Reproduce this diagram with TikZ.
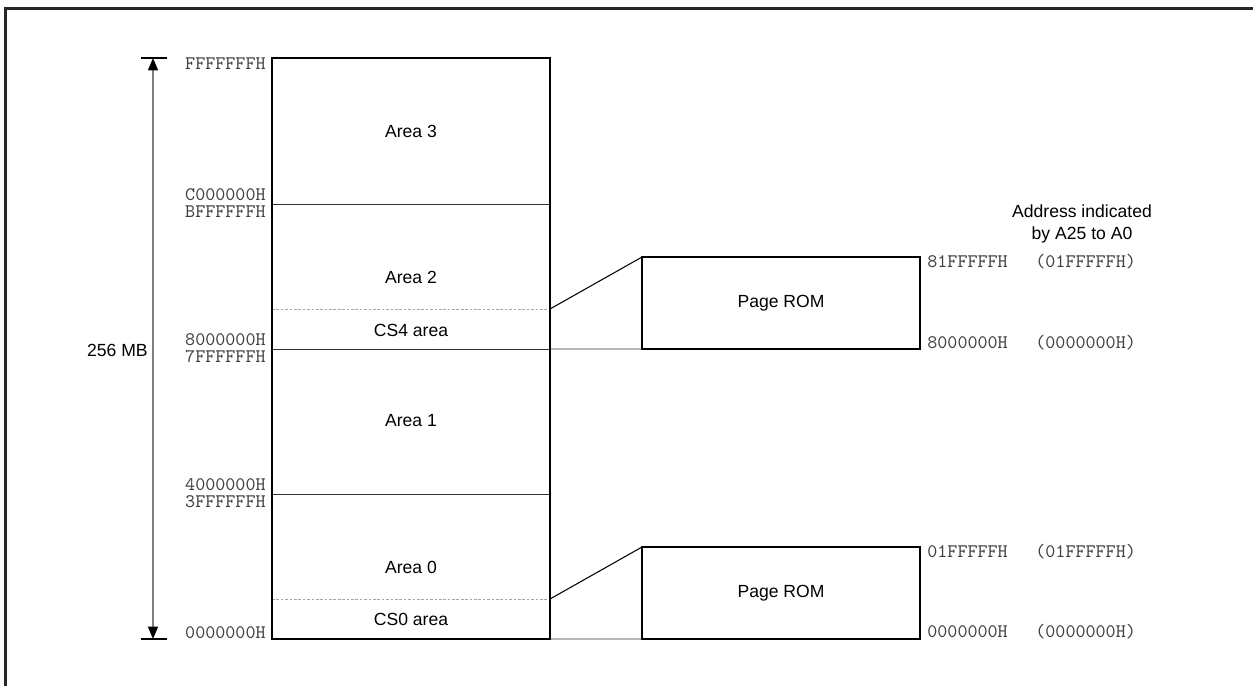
\documentclass[tikz,border=0pt]{standalone}
\usepackage{fontspec}
\setmainfont{Liberation Sans}
\usetikzlibrary{arrows.meta}

\tikzset{
  areatext/.style={font=\fontsize{10}{12}\selectfont, inner sep=0pt},
  addr/.style={font=\ttfamily\fontsize{10.9}{9.5}\selectfont, text=black!75, inner sep=0pt},
  rombox/.style={draw, line width=1.1pt, minimum width=5.56cm, minimum height=1.84cm,
    font=\fontsize{10}{12}\selectfont, outer sep=0pt},
  thinline/.style={line width=0.5pt, black!80},
  dotline/.style={line width=0.4pt, gray!70, dash pattern=on 1.5pt off 1pt}
}

\begin{document}
\begin{tikzpicture}[x=0.02cm, y=-0.02cm]
\useasboundingbox (0,0) rectangle (1253,686);
\draw[line width=1.2pt, black!85] (5.5,686) -- (5.5,8.5) -- (1253,8.5);

\node[areatext] (a3) at (411,131) {Area 3};
\node[areatext] (a2) at (411,277) {Area 2};
\node[areatext] (cs4) at (411,330) {CS4 area};
\node[areatext] (a1) at (411,421) {Area 1};
\node[areatext] (a0) at (411,567) {Area 0};
\node[areatext] (cs0) at (411,619) {CS0 area};

\coordinate (top) at (272,58);
\coordinate (bot) at (550,639);
\coordinate (cs4r) at (550,309);
\coordinate (cs0r) at (550,599);
\coordinate (l8) at (550,349);
\coordinate (l0) at (550,639);

\draw[thinline] (272,204) -- (550,204);
\draw[thinline] (272,349) -- (550,349);
\draw[thinline] (272,494) -- (550,494);
\draw[dotline] (272,309) -- (cs4r);
\draw[dotline] (272,599) -- (cs0r);
\draw[line width=1.1pt] (top) rectangle (bot);

\node[addr, anchor=base east] (f1) at (266,70) {FFFFFFFH};
\node[addr, anchor=east, align=right] (cb) at (266,203) {C000000H\\BFFFFFFH};
\node[addr, anchor=east, align=right] (e87) at (266,348) {8000000H\\7FFFFFFH};
\node[addr, anchor=east, align=right] (e43) at (266,493) {4000000H\\3FFFFFFH};
\node[addr, anchor=base east] (e0) at (266,638) {0000000H};

\coordinate (tickt) at (153,58);
\coordinate (tickb) at (153,639);
\draw[line width=0.7pt] (141,58) -- (167,58);
\draw[line width=0.7pt] (141,639) -- (167,639);
\draw[gray, line width=1pt, {Triangle[length=7pt,width=5.6pt,black]}-{Triangle[length=7pt,width=5.6pt,black]}] (tickt) -- (tickb);
\node[areatext, anchor=east] (mb) at (148,350) {256 MB};

\node[rombox] (rom1) at (781,303) {Page ROM};
\node[rombox] (rom0) at (781,593) {Page ROM};
\draw[line width=0.6pt] (cs4r) -- (rom1.north west);
\draw[thinline] (l8) -- (rom1.south west);
\draw[line width=0.6pt] (cs0r) -- (rom0.north west);
\draw[thinline] (l0) -- (rom0.south west);

\node[addr, anchor=base west] (r1t) at (927,267) {81FFFFFH};
\node[addr, anchor=base west] (r1tt) at (1035,267) {(01FFFFFH)};
\node[addr, anchor=base west] (r1b) at (927,348) {8000000H};
\node[addr, anchor=base west] (r1bb) at (1035,348) {(0000000H)};
\node[addr, anchor=base west] (r0t) at (927,557) {01FFFFFH};
\node[addr, anchor=base west] (r0tt) at (1035,557) {(01FFFFFH)};
\node[addr, anchor=base west] (r0b) at (927,637) {0000000H};
\node[addr, anchor=base west] (r0bb) at (1035,637) {(0000000H)};

\node[areatext, align=center, font=\fontsize{10}{13}\selectfont] (hdr) at (1082,224) {Address indicated\\by A25 to A0};
\end{tikzpicture}
\end{document}
